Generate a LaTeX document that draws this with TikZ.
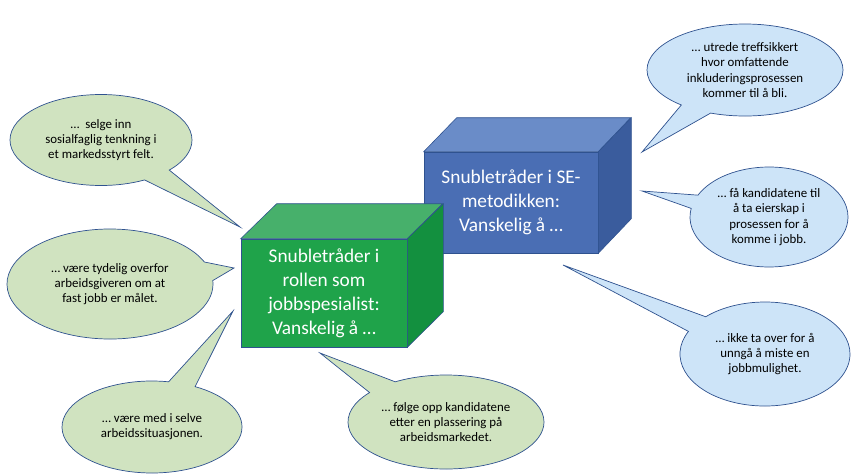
\documentclass[tikz,border=0pt]{standalone}
\usepackage{fontspec}
\setmainfont{Carlito}
\usepackage{xcolor}
\usepackage{tikz}
\usetikzlibrary{shapes.callouts}

\definecolor{edgeblue}{HTML}{2F528F}
\definecolor{bubblegreen}{HTML}{D0E3C0}
\definecolor{bubbleblue}{HTML}{CDE4F8}
\definecolor{boxgreen}{HTML}{1FA34A}
\definecolor{boxgreentop}{HTML}{47B06B}
\definecolor{boxgreenside}{HTML}{13903F}
\definecolor{boxblue}{HTML}{4A6EB4}
\definecolor{boxbluetop}{HTML}{6A8CC8}
\definecolor{boxblueside}{HTML}{3A5C9D}

\begin{document}
\begin{tikzpicture}[
    x=0.03cm, y=-0.03cm,
    bubble_node/.style={
        ellipse callout,
        draw=edgeblue,
        line width=0.6pt,
        inner sep=1pt,
        callout pointer arc=20,
        align=center,
        font=\fontsize{11}{13}\selectfont
    },
    green_bubble/.style={bubble_node, fill=bubblegreen},
    blue_bubble/.style={bubble_node, fill=bubbleblue},
    box_front/.style={
        rectangle,
        draw=edgeblue,
        line width=0.5pt,
        align=center,
        text=white,
        font=\fontsize{16.5}{20.4}\selectfont
    },
    box_face/.style={draw=edgeblue, line width=0.5pt}
]
    \useasboundingbox (0,0) rectangle (852,474);

    % Blue box (behind)
    \node[box_front, fill=boxblue, minimum width=5.22cm, minimum height=3.03cm] (se_box) at (511,202.5)
        {Snubletråder i SE-\\metodikken:\\Vanskelig å …};
    \draw[box_face, fill=boxbluetop] (se_box.north west) -- ++(33,-34) -- ++(174,0) -- (se_box.north east) -- cycle;
    \draw[box_face, fill=boxblueside] (se_box.north east) -- ++(33,-34) -- ++(0,101) -- (se_box.south east) -- cycle;

    % Green box (front)
    \node[box_front, fill=boxgreen, minimum width=4.98cm, minimum height=3.24cm] (js_box) at (324,293)
        {Snubletråder i\\rollen som\\jobbspesialist:\\Vanskelig å …};
    \draw[box_face, fill=boxgreentop] (js_box.north west) -- ++(36,-35) -- ++(166,0) -- (js_box.north east) -- cycle;
    \draw[box_face, fill=boxgreenside] (js_box.north east) -- ++(36,-35) -- ++(0,108) -- (js_box.south east) -- cycle;

    % Pointer tips
    \coordinate (tip_selge) at (240,227);
    \coordinate (tip_tydelig) at (234,268);
    \coordinate (tip_selve) at (233,311);
    \coordinate (tip_folge) at (320,353);
    \coordinate (tip_utrede) at (642,152);
    \coordinate (tip_eierskap) at (642,191);
    \coordinate (tip_ta_over) at (563,265);

    % Green bubbles
    \node[green_bubble, minimum width=5.46cm, minimum height=2.73cm, callout absolute pointer={(tip_selge)}] (selge) at (101,140)
        {…~ selge inn\\sosialfaglig tenkning i\\et markedsstyrt felt.};
    \node[green_bubble, minimum width=6.18cm, minimum height=3.3cm, callout absolute pointer={(tip_tydelig)}] (tydelig) at (110,284)
        {… være tydelig overfor\\arbeidsgiveren om at\\fast jobb er målet.};
    \node[green_bubble, minimum width=5.4cm, minimum height=2.76cm, callout pointer arc=18, callout absolute pointer={(tip_selve)}] (selve) at (152,427)
        {… være med i selve\\arbeidssituasjonen.};
    \node[green_bubble, minimum width=5.88cm, minimum height=2.82cm, callout absolute pointer={(tip_folge)}] (folge) at (446,422)
        {… følge opp kandidatene\\etter en plassering på\\arbeidsmarkedet.};

    % Blue bubbles
    \node[blue_bubble, minimum width=5.88cm, minimum height=2.76cm, callout absolute pointer={(tip_utrede)}] (utrede) at (745,70)
        {… utrede treffsikkert\\hvor omfattende\\inkluderingsprosessen\\kommer til å bli.};
    \node[blue_bubble, minimum width=4.74cm, minimum height=3cm, callout pointer arc=16, callout absolute pointer={(tip_eierskap)}] (eierskap) at (769,217)
        {… få kandidatene til\\å ta eierskap i\\prosessen for å\\komme i jobb.};
    \node[blue_bubble, minimum width=5.1cm, minimum height=3.12cm, callout absolute pointer={(tip_ta_over)}] (ta_over) at (765,354)
        {… ikke ta over for å\\unngå å miste en\\jobbmulighet.};

\end{tikzpicture}
\end{document}
